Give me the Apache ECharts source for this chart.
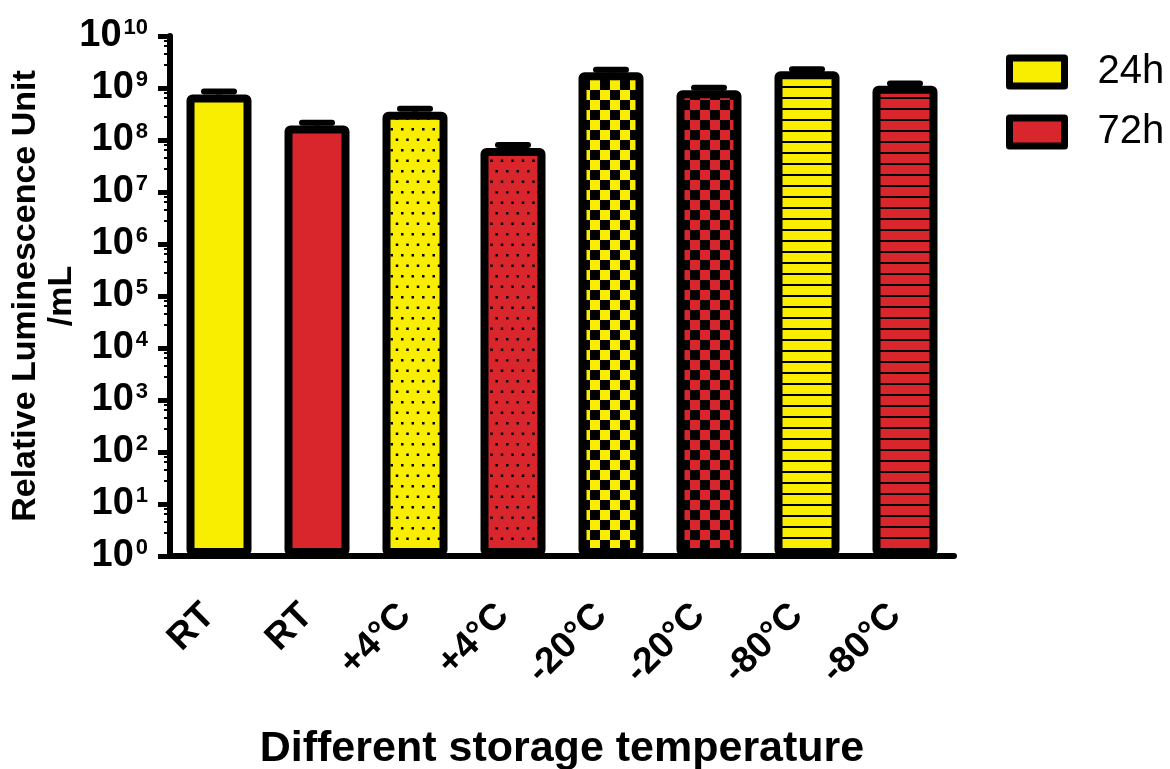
<!DOCTYPE html>
<html>
<head>
<meta charset="utf-8">
<script src="https://cdn.jsdelivr.net/npm/echarts@6/dist/echarts.min.js"></script>
<style>
    html, body { margin: 0; padding: 0; background: #fff; }
    #chart { width: 1170px; height: 769px; }
</style>
</head>
<body>
<div id="chart"></div>
<script>
    const categories = ['RT', 'RT', '+4°C', '+4°C', '-20°C', '-20°C', '-80°C', '-80°C'];
    const seriesNames = ['24h', '72h'];
    // which category slot each series' bars sit in
    const pos24 = [0, 2, 4, 6];
    const pos72 = [1, 3, 5, 7];
    const mean24 = [7.5e8, 3.5e8, 2.0e9, 2.1e9];
    const mean72 = [1.9e8, 7.0e7, 9.1e8, 1.1e9];
    const err24 = [1.1e8, 5.0e7, 2.5e8, 2.0e8];
    const err72 = [2.5e7, 1.0e7, 1.0e8, 1.2e8];
    const fills = ['solid', 'solid', 'dots', 'dots', 'checker', 'checker', 'stripes', 'stripes'];

    const YELLOW = '#f9ed00';
    const RED = '#d9262c';
    const FONT = '"Liberation Sans", Arial, sans-serif';

    function makePattern(color, kind) {
        if (kind === 'solid') return color;
        const c = document.createElement('canvas');
        const ctx = c.getContext('2d');
        if (kind === 'dots') {
            c.width = 21; c.height = 21;
            ctx.fillStyle = color; ctx.fillRect(0, 0, 21, 21);
            ctx.fillStyle = '#000';
            [[2, 2], [12.5, 2], [7.25, 12.5], [17.75, 12.5]].forEach(p => ctx.fillRect(p[0], p[1], 2.5, 2.5));
        } else if (kind === 'checker') {
            c.width = 20; c.height = 20;
            ctx.fillStyle = color; ctx.fillRect(0, 0, 20, 20);
            ctx.fillStyle = '#000';
            ctx.fillRect(0, 0, 10, 10);
            ctx.fillRect(10, 10, 10, 10);
        } else {
            c.width = 4; c.height = 11;
            ctx.fillStyle = color; ctx.fillRect(0, 0, 4, 11);
            ctx.fillStyle = '#000';
            ctx.fillRect(0, 9, 4, 2);
        }
        return { image: c, repeat: 'repeat' };
    }

    function barData(pos, mean, color) {
        const out = categories.map(() => '-');
        pos.forEach((p, i) => {
            out[p] = { value: mean[i], itemStyle: { color: makePattern(color, fills[p]) } };
        });
        return out;
    }

    function errorSeries(pos, mean, err) {
        return {
            type: 'custom',
            silent: true,
            z: 1,
            data: pos.map((p, i) => [p, mean[i], mean[i] + err[i]]),
            encode: { x: 0, y: [1, 2] },
            renderItem(params, api) {
                const lo = api.coord([api.value(0), api.value(1)]);
                const hi = api.coord([api.value(0), api.value(2)]);
                const half = 15;
                return {
                    type: 'group',
                    children: [
                        { type: 'line', shape: { x1: lo[0], y1: lo[1], x2: hi[0], y2: hi[1] }, style: { stroke: '#000', lineWidth: 6 } },
                        { type: 'line', shape: { x1: hi[0] - half, y1: hi[1], x2: hi[0] + half, y2: hi[1] }, style: { stroke: '#000', lineWidth: 6, lineCap: 'round' } }
                    ]
                };
            }
        };
    }

    function barSeries(name, pos, mean, color) {
        return {
            name: name,
            type: 'bar',
            z: 2,
            barWidth: 65,
            barGap: '-100%',
            data: barData(pos, mean, color),
            itemStyle: { color: color, borderColor: '#000', borderWidth: 8, borderJoin: 'round', borderRadius: 2 }
        };
    }

    const myChart = echarts.init(document.getElementById('chart'));
    myChart.setOption({
        animation: false,
        textStyle: { fontFamily: FONT, color: '#000' },
        grid: { left: 170, right: 216, top: 36, bottom: 213, containLabel: false, outerBoundsMode: 'none' },
        legend: {
            data: seriesNames,
            orient: 'vertical',
            left: 1001,
            top: 47,
            icon: 'rect',
            itemWidth: 55,
            itemHeight: 28,
            itemGap: 20,
            itemStyle: { borderColor: '#000', borderWidth: 7 },
            textStyle: { fontSize: 40, fontFamily: FONT, color: '#000', lineHeight: 28, padding: [0, 0, 0, 28] }
        },
        xAxis: {
            type: 'category',
            data: categories,
            axisLine: { lineStyle: { color: '#000', width: 6 } },
            axisTick: { alignWithLabel: true, length: 14, lineStyle: { color: '#000', width: 4 } },
            axisLabel: { rotate: 45, fontSize: 37, fontWeight: 'bold', color: '#000', margin: 44, interval: 0, padding: [0, 14, 0, 0] },
            name: 'Different storage temperature',
            nameLocation: 'middle',
            nameGap: 172,
            nameMoveOverlap: false,
            nameTextStyle: { fontSize: 43, fontWeight: 'bold', color: '#000' }
        },
        yAxis: {
            type: 'log',
            logBase: 10,
            min: 1,
            max: 1e10,
            interval: 1,
            axisLine: { show: true, lineStyle: { color: '#000', width: 6 } },
            axisTick: { show: true, length: 12, lineStyle: { color: '#000', width: 5 } },
            minorTick: { show: true, splitNumber: 5, length: 6, lineStyle: { color: '#000', width: 2 } },
            splitLine: { show: false },
            axisLabel: {
                margin: 22,
                formatter: v => '{b|10}{s|' + Math.round(Math.log10(v)) + '}',
                rich: {
                    b: { fontSize: 38, fontWeight: 'bold', color: '#000', lineHeight: 38 },
                    s: { fontSize: 22, fontWeight: 'bold', color: '#000', verticalAlign: 'top', lineHeight: 22, padding: [0, 0, 0, 2] }
                }
            },
            name: 'Relative Luminescence Unit\n/mL',
            nameLocation: 'middle',
            nameGap: 90,
            nameMoveOverlap: false,
            nameTextStyle: { fontSize: 34, fontWeight: 'bold', color: '#000', lineHeight: 36 }
        },
        series: [
            errorSeries(pos24, mean24, err24),
            errorSeries(pos72, mean72, err72),
            barSeries(seriesNames[0], pos24, mean24, YELLOW),
            barSeries(seriesNames[1], pos72, mean72, RED)
        ]
    });
</script>
</body>
</html>
